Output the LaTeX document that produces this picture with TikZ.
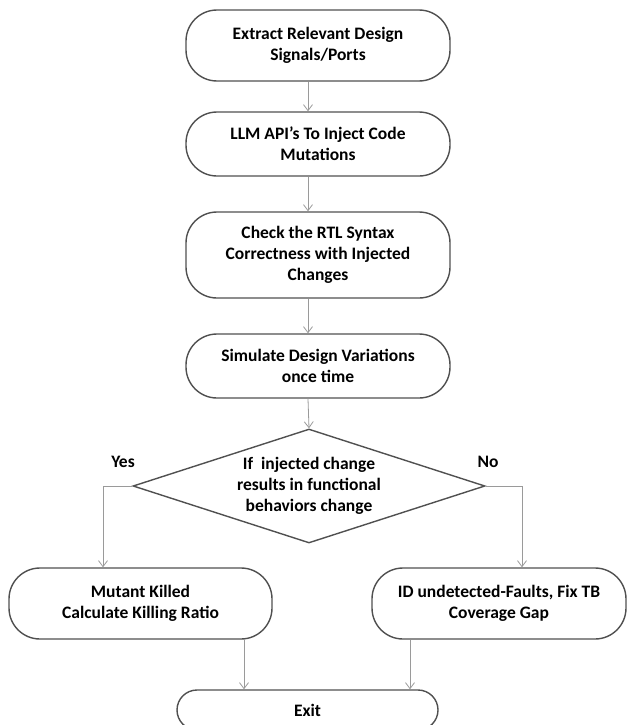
\documentclass[tikz,border=0pt]{standalone}
\usepackage{fontspec}
\setmainfont{Carlito}
\usetikzlibrary{arrows.meta, calc, shapes.geometric}

\definecolor{edgegray}{HTML}{505050}
\definecolor{linkgray}{HTML}{9A9A9A}

\begin{document}
\begin{tikzpicture}[
    x=1pt, y=-1pt,
    block/.style={rectangle, draw=edgegray, line width=1.4pt, rounded corners=31pt, minimum width=264pt, align=center, font=\fontsize{17.5}{21}\selectfont\bfseries, inner sep=0pt},
    decision/.style={diamond, draw=edgegray, line width=1.4pt, minimum width=352pt, minimum height=114pt, aspect=3.1, align=center, font=\fontsize{17.5}{21}\selectfont\bfseries, inner sep=0pt},
    label/.style={font=\fontsize{17.5}{21}\selectfont\bfseries},
    arrow/.style={-{Straight Barb[length=6pt, width=9pt]}, draw=linkgray, line width=0.8pt}
]
\useasboundingbox (0,0) rectangle (627,725);

\node[block, minimum height=71pt] (extract) at (318,45.5) {Extract Relevant Design\\Signals/Ports};
\node[block, minimum height=64pt] (inject) at (318,144) {LLM API’s To Inject Code\\Mutations};
\node[block, minimum height=86pt] (check) at (318,255) {Check the RTL Syntax\\Correctness with Injected\\Changes};
\node[block, minimum height=64pt] (simulate) at (318,366) {Simulate Design Variations\\once time};
\node[decision] (decide) at (309,486) {If\ \ injected change\\results in functional\\behaviors change};
\node[block, minimum width=263pt, minimum height=71pt] (killed) at (140.5,603.5) {Mutant Killed\\Calculate Killing Ratio};
\node[block, minimum width=254pt, minimum height=71pt] (gap) at (499,603.5) {ID undetected-Faults, Fix TB\\Coverage Gap};
\node[block, minimum width=261pt, minimum height=40pt, rounded corners=20pt] (exitnode) at (307.5,710) {Exit};

\node[label] (yes) at (123,462) {Yes};
\node[label] (no) at (488,462) {No};

% main column
\draw[arrow] ([xshift=-10pt]extract.south) -- ([xshift=-10pt]inject.north);
\draw[arrow] ([xshift=-10pt]inject.south) -- ([xshift=-10pt]check.north);
\draw[arrow] ([xshift=-10pt]check.south) -- ([xshift=-10pt]simulate.north);
\draw[arrow] ([xshift=-10pt]simulate.south) -- (decide.north);

% branches
\draw[arrow] (decide.west) -| ([xshift=-37.5pt]killed.north);
\draw[arrow] (decide.east) -| ([xshift=23pt]gap.north);
\coordinate (killedout) at ([xshift=103.5pt]killed.south);
\coordinate (gapout) at ([xshift=-89pt]gap.south);
\draw[arrow] (killedout) -- (killedout |- exitnode.north);
\draw[arrow] (gapout) -- (gapout |- exitnode.north);
\end{tikzpicture}
\end{document}
